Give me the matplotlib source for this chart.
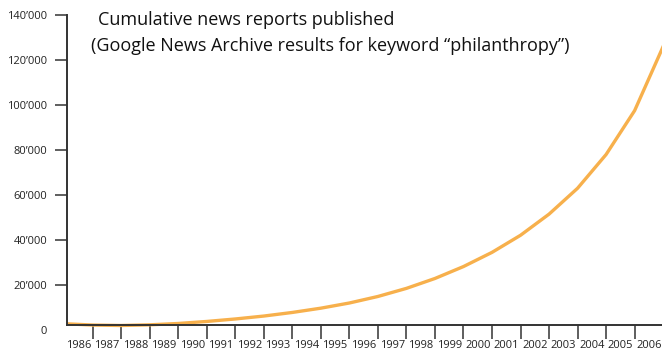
import matplotlib
matplotlib.use("Agg")
import matplotlib.pyplot as plt
from matplotlib.ticker import FixedLocator, NullFormatter

years = list(range(1986, 2008))
reports = [2800, 2200, 2000, 2300, 2900, 3800, 4900, 6200, 7800, 9700,
           12000, 14900, 18500, 22900, 28200, 34500, 42100, 51500, 63000,
           78000, 97500, 126000]
ytick_vals = [0, 20000, 40000, 60000, 80000, 100000, 120000, 140000]
ytick_labels = ["0", "20’000", "40’000", "60’000", "80’000", "100’000", "120’000", "140’000"]
year_labels = [str(y) for y in range(1986, 2007)]

plt.rcParams['font.family'] = ['Open Sans', 'DejaVu Sans']

fig = plt.figure(figsize=(6.62, 3.52), dpi=100)
ax = fig.add_axes([66.7 / 662, 1 - 330 / 352, 1 - 66.7 / 662, 315 / 352])

ax.plot(years, reports, color="#f7b04c", lw=2.4, solid_joinstyle="round")

ax.set_xlim(1986.09, 2006.96)
ax.set_ylim(0, 140000)

for s in ["top", "right"]:
    ax.spines[s].set_visible(False)
ax.spines["bottom"].set_position(("data", 2200))
ax.spines["left"].set_bounds(2200, 140000)
for s in ["bottom", "left"]:
    ax.spines[s].set_color("#333333")
    ax.spines[s].set_linewidth(1.4)

ax.set_yticks(ytick_vals)
ax.set_yticklabels(ytick_labels, fontsize=8, color="#222222")
ax.tick_params(axis="y", length=9, width=1.1, color="#333333", pad=5)
ax.yaxis.get_major_ticks()[0].tick1line.set_visible(False)

# year boundaries as tick marks, labels centred between them
ax.xaxis.set_major_locator(FixedLocator(list(range(1987, 2007))))
ax.xaxis.set_major_formatter(NullFormatter())
ax.xaxis.set_minor_locator(FixedLocator([y + 0.5 for y in range(1986, 2007)]))
ax.set_xticklabels(year_labels, minor=True, fontsize=8, color="#222222")
ax.tick_params(axis="x", which="major", length=10, width=1.1, color="#333333")
ax.tick_params(axis="x", which="minor", length=0, pad=11)

fig.text(98 / 662, 1 - 20 / 352, "Cumulative news reports published",
         fontsize=13, va="center", ha="left", color="#111111")
fig.text(91 / 662, 1 - 46 / 352, "(Google News Archive results for keyword “philanthropy”)",
         fontsize=13, va="center", ha="left", color="#111111")

fig.savefig("out.png", dpi=100)
